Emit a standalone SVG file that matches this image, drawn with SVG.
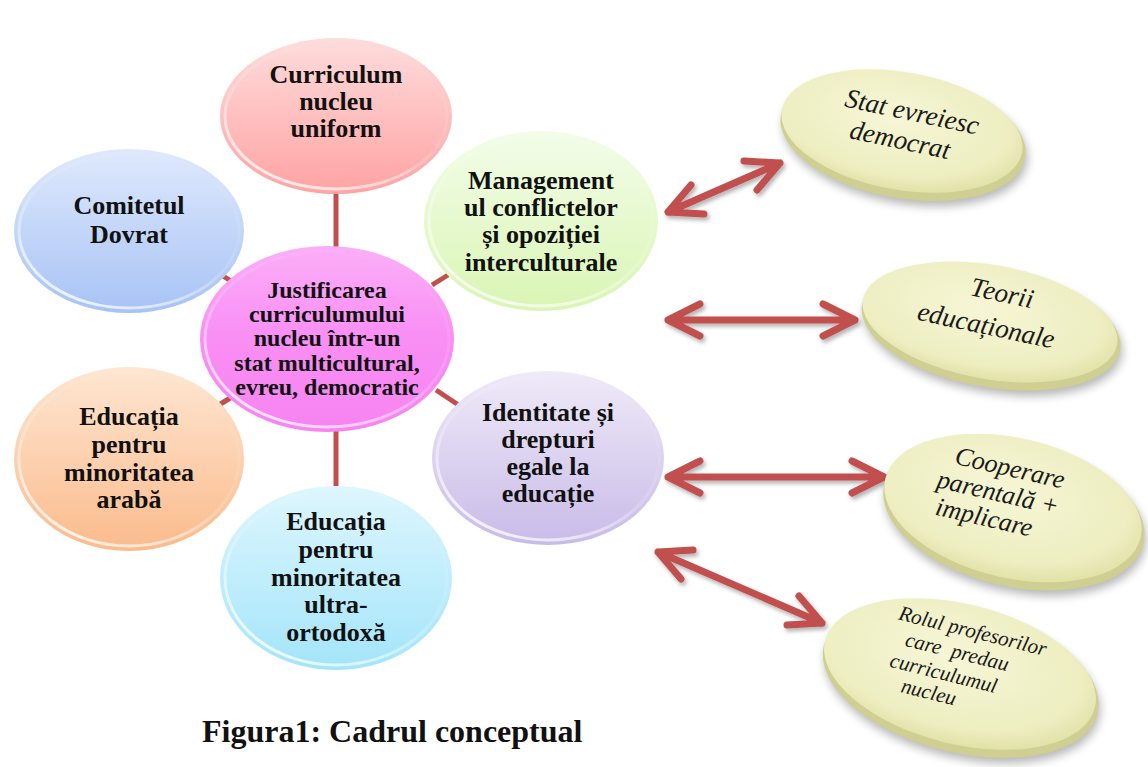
<svg xmlns="http://www.w3.org/2000/svg" width="1148" height="767" viewBox="0 0 1148 767">
<defs>
<style>
.nt{font-family:"Liberation Serif","Times New Roman",serif;font-weight:bold;font-size:26px;fill:#111;text-anchor:middle}
.ct{font-family:"Liberation Serif","Times New Roman",serif;font-weight:bold;font-size:24px;fill:#111;text-anchor:middle}
.dt{font-family:"Liberation Serif","Times New Roman",serif;font-style:italic;fill:#1a1a1a;text-anchor:middle}
.spoke{stroke:#c0504d;stroke-width:5;fill:none}
.arr{stroke:#c0504d;stroke-width:7;fill:none;stroke-linecap:round;stroke-linejoin:round}
.gloss{fill:none;stroke:url(#gGloss);stroke-width:3}
.rim{fill:#cfcf92}
.top{fill:url(#gDisc)}
.dsh{fill:#000;opacity:0.28}
</style>
<linearGradient id="gGloss" x1="0.8" y1="0" x2="0.2" y2="1"><stop offset="0" stop-color="#fff" stop-opacity="0"/><stop offset="0.5" stop-color="#fff" stop-opacity="0.15"/><stop offset="1" stop-color="#fff" stop-opacity="0.85"/></linearGradient>
<linearGradient id="gPink" x1="0" y1="0" x2="0" y2="1"><stop offset="0" stop-color="#fedcdc"/><stop offset="1" stop-color="#ffa3a3"/></linearGradient>
<linearGradient id="gBlue" x1="0" y1="0" x2="0" y2="1"><stop offset="0" stop-color="#dfe9fd"/><stop offset="1" stop-color="#a7c3f5"/></linearGradient>
<linearGradient id="gGreen" x1="0" y1="0" x2="0" y2="1"><stop offset="0" stop-color="#f3fde9"/><stop offset="1" stop-color="#daf5b4"/></linearGradient>
<linearGradient id="gLav" x1="0" y1="0" x2="0" y2="1"><stop offset="0" stop-color="#efeaf8"/><stop offset="1" stop-color="#c9bbe8"/></linearGradient>
<linearGradient id="gOrange" x1="0" y1="0" x2="0" y2="1"><stop offset="0" stop-color="#fee6d2"/><stop offset="1" stop-color="#fbbb8c"/></linearGradient>
<linearGradient id="gCyan" x1="0" y1="0" x2="0" y2="1"><stop offset="0" stop-color="#def6fd"/><stop offset="1" stop-color="#a3e5fa"/></linearGradient>
<linearGradient id="gMag" x1="0" y1="0" x2="0" y2="1"><stop offset="0" stop-color="#fbaef8"/><stop offset="0.5" stop-color="#f98ef4"/><stop offset="1" stop-color="#f784f1"/></linearGradient>
<radialGradient id="gDisc" cx="0.45" cy="0.4" r="0.6"><stop offset="0" stop-color="#f6f6d6"/><stop offset="0.8" stop-color="#eeeec2"/><stop offset="1" stop-color="#e2e2aa"/></radialGradient>
<filter id="blur" x="-20%" y="-20%" width="140%" height="140%"><feGaussianBlur stdDeviation="5"/></filter>
<filter id="ash" x="-10%" y="-30%" width="120%" height="160%"><feDropShadow dx="2" dy="3" stdDeviation="2" flood-color="#000" flood-opacity="0.3"/></filter>
</defs>
<rect width="1148" height="767" fill="#fff"/>

<g id="connectors">
<line class="spoke" x1="336" y1="190" x2="336" y2="252"/>
<line class="spoke" x1="336" y1="428" x2="336" y2="492"/>
<line class="spoke" x1="214" y1="270" x2="240" y2="287"/>
<line class="spoke" x1="432" y1="285" x2="456" y2="270"/>
<line class="spoke" x1="214" y1="408" x2="240" y2="392"/>
<line class="spoke" x1="436" y1="390" x2="460" y2="406"/>
<g filter="url(#ash)">
<path class="arr" d="M668,212 L780,163 M691,185 L668,212 L704,214 M744,161 L780,163 L757,190"/>
<path class="arr" d="M668,320 L855,320 M700,304 L668,320 L700,336 M823,304 L855,320 L823,336"/>
<path class="arr" d="M668,477 L884,477 M700,461 L668,477 L700,493 M852,461 L884,477 L852,493"/>
<path class="arr" d="M658,552 L822,623 M693,550 L658,552 L681,579 M787,625 L822,623 L799,596"/>
</g>
</g>

<g id="n-center">
<ellipse cx="327" cy="339" rx="127" ry="93" fill="url(#gMag)"/>
<ellipse class="gloss" cx="327" cy="339" rx="122" ry="88"/>
<text class="ct"><tspan x="327" y="298">Justificarea</tspan><tspan x="327" y="322">curriculumului</tspan><tspan x="327" y="346">nucleu într-un</tspan><tspan x="327" y="371">stat multicultural,</tspan><tspan x="327" y="395">evreu, democratic</tspan></text>
</g>

<g id="n-curriculum">
<ellipse cx="336" cy="116" rx="116" ry="78" fill="url(#gPink)"/>
<ellipse class="gloss" cx="336" cy="116" rx="111" ry="73"/>
<text class="nt"><tspan x="336" y="83">Curriculum</tspan><tspan x="336" y="110">nucleu</tspan><tspan x="336" y="137">uniform</tspan></text>
</g>

<g id="n-dovrat">
<ellipse cx="129" cy="231" rx="115" ry="82" fill="url(#gBlue)"/>
<ellipse class="gloss" cx="129" cy="231" rx="110" ry="77"/>
<text class="nt"><tspan x="129" y="214">Comitetul</tspan><tspan x="129" y="243">Dovrat</tspan></text>
</g>

<g id="n-arab">
<ellipse cx="129" cy="459" rx="115" ry="92" fill="url(#gOrange)"/>
<ellipse class="gloss" cx="129" cy="459" rx="110" ry="87"/>
<text class="nt"><tspan x="129" y="425">Educația</tspan><tspan x="129" y="453">pentru</tspan><tspan x="129" y="481">minoritatea</tspan><tspan x="129" y="508">arabă</tspan></text>
</g>

<g id="n-ortodox">
<ellipse cx="336" cy="578" rx="116" ry="92" fill="url(#gCyan)"/>
<ellipse class="gloss" cx="336" cy="578" rx="111" ry="87"/>
<text class="nt"><tspan x="336" y="530">Educația</tspan><tspan x="336" y="558">pentru</tspan><tspan x="336" y="586">minoritatea</tspan><tspan x="336" y="613">ultra-</tspan><tspan x="336" y="641">ortodoxă</tspan></text>
</g>

<g id="n-management">
<ellipse cx="541" cy="221" rx="117" ry="90" fill="url(#gGreen)"/>
<ellipse class="gloss" cx="541" cy="221" rx="112" ry="85"/>
<text class="nt"><tspan x="541" y="189">Management</tspan><tspan x="541" y="216">ul conflictelor</tspan><tspan x="541" y="243">și opoziției</tspan><tspan x="541" y="271">interculturale</tspan></text>
</g>

<g id="n-identitate">
<ellipse cx="548" cy="458" rx="116" ry="87" fill="url(#gLav)"/>
<ellipse class="gloss" cx="548" cy="458" rx="111" ry="82"/>
<text class="nt"><tspan x="548" y="421">Identitate și</tspan><tspan x="548" y="448">drepturi</tspan><tspan x="548" y="475">egale la</tspan><tspan x="548" y="502">educație</tspan></text>
</g>

<g id="n-stat" transform="translate(902,131) rotate(10)">
<ellipse class="dsh" cx="5" cy="10" rx="124" ry="62" filter="url(#blur)"/>
<ellipse class="rim" cx="2" cy="5" rx="124" ry="62"/>
<ellipse class="top" cx="0" cy="0" rx="122" ry="59"/>
<text class="dt" font-size="27" transform="rotate(2)"><tspan x="6" y="-12">Stat evreiesc</tspan><tspan x="0" y="18">democrat</tspan></text>
</g>

<g id="n-teorii" transform="translate(990,322) rotate(10)">
<ellipse class="dsh" cx="5" cy="10" rx="131" ry="60" filter="url(#blur)"/>
<ellipse class="rim" cx="2" cy="5" rx="131" ry="60"/>
<ellipse class="top" cx="0" cy="0" rx="129" ry="57"/>
<text class="dt" font-size="27" transform="rotate(2)"><tspan x="6" y="-22">Teorii</tspan><tspan x="-3" y="13">educaționale</tspan></text>
</g>

<g id="n-cooperare" transform="translate(1013,508) rotate(13)">
<ellipse class="dsh" cx="5" cy="10" rx="133" ry="73" filter="url(#blur)"/>
<ellipse class="rim" cx="2" cy="5" rx="133" ry="73"/>
<ellipse class="top" cx="0" cy="0" rx="131" ry="70"/>
<text class="dt" font-size="26"><tspan x="-12" y="-30">Cooperare</tspan><tspan x="-18" y="-3">parentală +</tspan><tspan x="-26" y="24">implicare</tspan></text>
</g>

<g id="n-rolul" transform="translate(960,674) rotate(14)">
<ellipse class="dsh" cx="5" cy="10" rx="141" ry="73" filter="url(#blur)"/>
<ellipse class="rim" cx="2" cy="5" rx="141" ry="73"/>
<ellipse class="top" cx="0" cy="0" rx="139" ry="70"/>
<text class="dt" font-size="21"><tspan x="2" y="-38">Rolul profesorilor</tspan><tspan x="-8" y="-14" style="white-space:pre">care  predau</tspan><tspan x="-16" y="10">curriculumul</tspan><tspan x="-26" y="32">nucleu</tspan></text>
</g>

<text id="caption" x="202" y="742" font-family="Liberation Serif, Times New Roman, serif" font-weight="bold" font-size="32" fill="#111">Figura1: Cadrul conceptual</text>
</svg>
